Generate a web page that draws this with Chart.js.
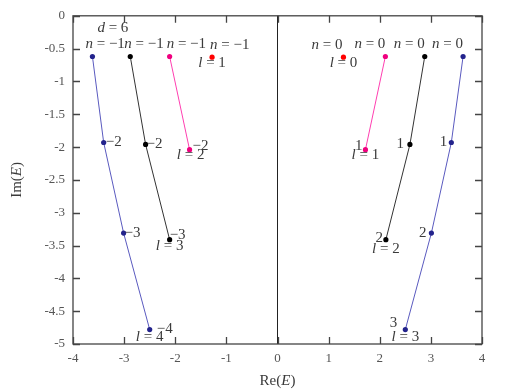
<!DOCTYPE html>
<html>
<head>
<meta charset="utf-8">
<script src="https://cdn.jsdelivr.net/npm/chart.js@4"></script>
<style>
  html, body { margin: 0; padding: 0; background: #fff; }
  #wrap { width: 506px; height: 392px; }
</style>
</head>
<body>
<div id="wrap"><canvas id="myChart"></canvas></div>
<script>
// values (Re(E), Im(E))
var reBlueL = [-3.62, -3.40, -3.01, -2.50];
var imBlueL = [-0.62, -1.93, -3.31, -4.78];
var reBlackL = [-2.88, -2.58, -2.11];
var imBlackL = [-0.62, -1.96, -3.41];
var reMagL = [-2.11, -1.72];
var imMagL = [-0.62, -2.04];
var reRedL = [-1.28];
var imRedL = [-0.63];

var reBlueR = [3.63, 3.40, 3.01, 2.50];
var imBlueR = [-0.62, -1.93, -3.31, -4.78];
var reBlackR = [2.88, 2.59, 2.12];
var imBlackR = [-0.62, -1.96, -3.41];
var reMagR = [2.11, 1.72];
var imMagR = [-0.62, -2.04];
var reRedR = [1.29];
var imRedR = [-0.63];

var xTicks = ['-4', '-3', '-2', '-1', '0', '1', '2', '3', '4'];
var yTicks = ['0', '-0.5', '-1', '-1.5', '-2', '-2.5', '-3', '-3.5', '-4', '-4.5', '-5'];

// text labels tied to points: [dataset, point index, text, align, dx, dy]
var pointLabels = [
    ['blueL', 0, 'n = −1', 'left', -7, -12],
    ['blackL', 0, 'n = −1', 'left', -6, -12],
    ['magL', 0, 'n = −1', 'left', -3, -12],
    ['redL', 0, 'n = −1', 'left', -2, -12],
    ['blueL', 1, '−2', 'left', 2, 0],
    ['blueL', 2, '−3', 'left', 1, 0],
    ['blueL', 3, '−4', 'left', 7, 0],
    ['blueL', 3, 'l = 4', 'center', 0, 8],
    ['blackL', 1, '−2', 'left', 1, 0],
    ['blackL', 2, '−3', 'left', 0, -5],
    ['blackL', 2, 'l = 3', 'center', 0, 6],
    ['magL', 1, '−2', 'left', 3, -4],
    ['magL', 1, 'l = 2', 'center', 1, 5],
    ['redL', 0, 'l = 1', 'center', 0, 6],
    ['blueR', 0, 'n = 0', 'right', 0, -12],
    ['blackR', 0, 'n = 0', 'right', 0, -12],
    ['magR', 0, 'n = 0', 'right', 0, -12],
    ['redR', 0, 'n = 0', 'right', -1, -12],
    ['redR', 0, 'l = 0', 'center', 0, 6],
    ['magR', 1, '1', 'right', -3, -4],
    ['magR', 1, 'l = 1', 'center', 0, 5],
    ['blackR', 1, '1', 'right', -6, 0],
    ['blackR', 2, '2', 'right', -3, -2],
    ['blackR', 2, 'l = 2', 'center', 0, 9],
    ['blueR', 1, '1', 'right', -4, 0],
    ['blueR', 2, '2', 'right', -5, 0],
    ['blueR', 3, '3', 'right', -8, -6],
    ['blueR', 3, 'l = 3', 'center', 0, 8]
];
var freeLabels = [['d = 6', -3.22, -0.18]];

function pts(xs, ys) {
    return xs.map(function (x, i) { return { x: x, y: ys[i] }; });
}

function series(id, xs, ys, line, dot) {
    return {
        label: id,
        data: pts(xs, ys),
        showLine: true,
        borderColor: line,
        borderWidth: 1,
        backgroundColor: dot,
        pointBackgroundColor: dot,
        pointBorderColor: dot,
        pointRadius: 2.6,
        pointBorderWidth: 0
    };
}

var BLUE_LINE = '#5a5abf', BLUE_DOT = '#23238c';
var MAG_LINE = '#ff3fb0', MAG_DOT = '#f0007f';

var datasets = [
    series('blueL', reBlueL, imBlueL, BLUE_LINE, BLUE_DOT),
    series('blackL', reBlackL, imBlackL, '#333', '#000'),
    series('magL', reMagL, imMagL, MAG_LINE, MAG_DOT),
    series('redL', reRedL, imRedL, '#ff0000', '#ff0000'),
    series('blueR', reBlueR, imBlueR, BLUE_LINE, BLUE_DOT),
    series('blackR', reBlackR, imBlackR, '#333', '#000'),
    series('magR', reMagR, imMagR, MAG_LINE, MAG_DOT),
    series('redR', reRedR, imRedR, '#ff0000', '#ff0000')
];

var SERIF = '"Liberation Serif", "DejaVu Serif", serif';
var LBL = 15;

// draws "v = ..." with the first letter in italic
function mathText(ctx, text, x, y, align, size) {
    var first = text.charAt(0);
    var italicFirst = /[a-z]/i.test(first) && text.length > 1 && text.charAt(1) === ' ';
    var a = italicFirst ? first : '';
    var b = italicFirst ? text.slice(1) : text;
    ctx.font = 'italic ' + size + 'px ' + SERIF;
    var wa = ctx.measureText(a).width;
    ctx.font = size + 'px ' + SERIF;
    var wb = ctx.measureText(b).width;
    var w = wa + wb;
    var x0 = align === 'left' ? x : align === 'right' ? x - w : x - w / 2;
    ctx.textAlign = 'left';
    ctx.textBaseline = 'middle';
    ctx.font = 'italic ' + size + 'px ' + SERIF;
    ctx.fillText(a, x0, y);
    ctx.font = size + 'px ' + SERIF;
    ctx.fillText(b, x0 + wa, y);
}

function funcLabel(ctx, name, x, y) {
    // "Re(" + italic E + ")"
    ctx.font = '15px ' + SERIF;
    var w1 = ctx.measureText(name + '(').width;
    ctx.font = 'italic 15px ' + SERIF;
    var w2 = ctx.measureText('E').width;
    ctx.font = '15px ' + SERIF;
    var w3 = ctx.measureText(')').width;
    var x0 = x - (w1 + w2 + w3) / 2;
    ctx.textAlign = 'left';
    ctx.textBaseline = 'middle';
    ctx.fillText(name + '(', x0, y);
    ctx.font = 'italic 15px ' + SERIF;
    ctx.fillText('E', x0 + w1, y);
    ctx.font = '15px ' + SERIF;
    ctx.fillText(')', x0 + w1 + w2, y);
}

var framePlugin = {
    id: 'frame',
    afterDraw: function (chart) {
        var ctx = chart.ctx, a = chart.chartArea;
        var xs = chart.scales.x, ys = chart.scales.y;
        ctx.save();
        ctx.strokeStyle = '#444';
        ctx.lineWidth = 1.3;
        ctx.strokeRect(a.left, a.top, a.right - a.left, a.bottom - a.top);
        ctx.beginPath();
        var T = 7;
        xs.ticks.forEach(function (t) {
            var px = Math.round(xs.getPixelForValue(t.value)) + 0.5;
            ctx.moveTo(px, a.bottom); ctx.lineTo(px, a.bottom - T);
            ctx.moveTo(px, a.top); ctx.lineTo(px, a.top + T);
        });
        ys.ticks.forEach(function (t) {
            var py = Math.round(ys.getPixelForValue(t.value)) + 0.5;
            ctx.moveTo(a.left, py); ctx.lineTo(a.left + T, py);
            ctx.moveTo(a.right, py); ctx.lineTo(a.right - T, py);
        });
        ctx.stroke();

        // point labels
        ctx.fillStyle = '#3a3a3a';
        pointLabels.forEach(function (l) {
            var di = chart.data.datasets.findIndex(function (d) { return d.label === l[0]; });
            var p = chart.getDatasetMeta(di).data[l[1]];
            mathText(ctx, l[2], p.x + l[4], p.y + l[5], l[3], LBL);
        });
        freeLabels.forEach(function (l) {
            mathText(ctx, l[0], xs.getPixelForValue(l[1]), ys.getPixelForValue(l[2]), 'center', LBL);
        });

        // axis titles
        funcLabel(ctx, 'Re', (a.left + a.right) / 2, 381);
        ctx.translate(17, (a.top + a.bottom) / 2);
        ctx.rotate(-Math.PI / 2);
        funcLabel(ctx, 'Im', 0, 0);
        ctx.restore();
    }
};

var ctx1 = document.getElementById('myChart').getContext('2d');
var myChart = new Chart(ctx1, {
    type: 'scatter',
    data: { datasets: datasets },
    options: {
        responsive: true,
        maintainAspectRatio: false,
        animation: false,
        layout: { padding: { left: 0, right: 24, top: 15, bottom: 0 } },
        plugins: { legend: { display: false }, tooltip: { enabled: false } },
        scales: {
            x: {
                type: 'linear', min: -4, max: 4,
                afterFit: function (s) { s.height = 48; },
                afterBuildTicks: function (s) {
                    s.ticks = xTicks.map(function (t) { return { value: parseFloat(t) }; });
                },
                ticks: {
                    padding: 7, color: '#555', maxRotation: 0,
                    font: { family: SERIF, size: 13 },
                    callback: function (v) { return xTicks[xTicks.indexOf(String(v))] || String(v); }
                },
                grid: {
                    drawTicks: false,
                    color: function (c) { return c.tick && c.tick.value === 0 ? '#222' : 'rgba(0,0,0,0)'; },
                    lineWidth: 1
                },
                border: { display: false }
            },
            y: {
                type: 'linear', min: -5, max: 0,
                afterFit: function (s) { s.width = 73; },
                afterBuildTicks: function (s) {
                    s.ticks = yTicks.map(function (t) { return { value: parseFloat(t) }; });
                },
                ticks: {
                    padding: 8, color: '#555',
                    font: { family: SERIF, size: 13 },
                    callback: function (v) { return yTicks[yTicks.indexOf(String(v))] || String(v); }
                },
                grid: { drawTicks: false, display: false },
                border: { display: false }
            }
        }
    },
    plugins: [framePlugin]
});
</script>
</body>
</html>
